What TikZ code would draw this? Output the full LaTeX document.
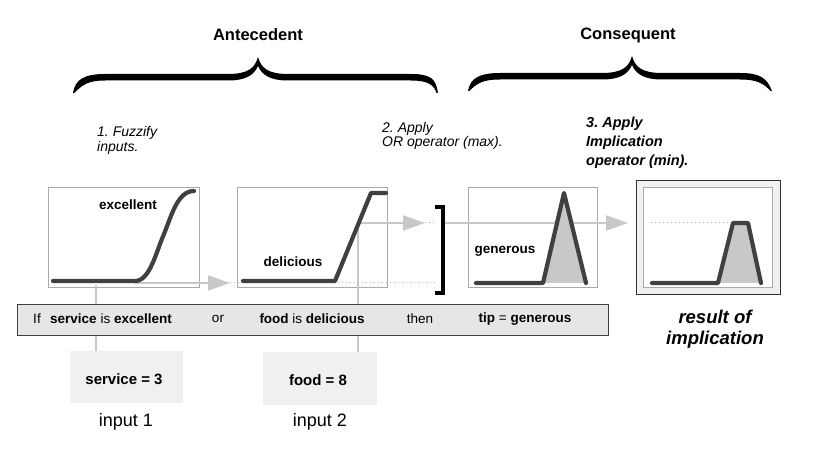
\documentclass[tikz,border=0pt]{standalone}
\usepackage{fontspec}
\setmainfont{Liberation Sans}
\usetikzlibrary{arrows.meta}
\frenchspacing
\definecolor{curvec}{HTML}{404040}
\definecolor{connc}{HTML}{C8C8C8}
\definecolor{boxb}{HTML}{AAAAAA}
\definecolor{dotc}{HTML}{B4B4B4}
\definecolor{fillg}{HTML}{C8C8C8}
\definecolor{barfill}{HTML}{E6E6E6}
\definecolor{inbox}{HTML}{F0F0F0}
\tikzset{
  mfbox/.style={draw=boxb, line width=0.8pt, fill=white, inner sep=0pt, anchor=north west},
  mfcurve/.style={draw=curvec, line width=4.2pt, line cap=round, line join=round},
  connline/.style={draw=connc, line width=2pt},
  connarrow/.style={connline, -{Triangle[length=22pt,width=15pt]}},
  dotline/.style={draw=dotc, line width=1pt, dash pattern=on 1pt off 3pt},
  bracefill/.style={fill=black},
  head/.style={font=\fontsize{16.5}{19}\selectfont\bfseries},
  stepital/.style={font=\fontsize{14}{15}\selectfont\itshape, anchor=base west, inner sep=0pt},
  stepbold/.style={font=\fontsize{14.5}{19}\selectfont\bfseries\itshape, anchor=base west, inner sep=0pt},
  mflabel/.style={font=\fontsize{13.5}{16}\selectfont\bfseries, inner sep=0pt},
  bartext/.style={font=\fontsize{13.5}{16}\selectfont, inner sep=0pt},
  inbox/.style={fill=inbox, inner sep=0pt, anchor=north west},
  intext/.style={font=\fontsize{15}{18}\selectfont\bfseries, inner sep=0pt},
  inlabel/.style={font=\fontsize{18}{20}\selectfont, inner sep=0pt},
  restext/.style={font=\fontsize{18.5}{23}\selectfont\bfseries\itshape, inner sep=0pt},
}
\begin{document}
\begin{tikzpicture}[x=1pt,y=-1pt]
\useasboundingbox (0,0) rectangle (815,449);

% ---------- braces ----------
\path[bracefill] (73,93) .. controls (75,79) and (85,74) .. (105,74) -- (228,74)
  .. controls (248,74) and (255,68) .. (258,57)
  .. controls (261,68) and (268,74) .. (288,74) -- (411,74)
  .. controls (431,74) and (436,79) .. (438,93) -- (436.5,93)
  .. controls (434,85) and (428,80.5) .. (411,80.5) -- (288,80.5)
  .. controls (270,80.5) and (262,75) .. (258,66)
  .. controls (254,75) and (246,80.5) .. (228,80.5) -- (105,80.5)
  .. controls (88,80.5) and (82,85) .. (74.5,93) -- cycle;
\path[bracefill] (468,91) .. controls (470,78) and (480,73) .. (500,73) -- (602,73)
  .. controls (622,73) and (629,67) .. (632,56)
  .. controls (635,67) and (642,73) .. (662,73) -- (740,73)
  .. controls (760,73) and (767,78) .. (772,91) -- (770.5,91)
  .. controls (764,84) and (758,79.5) .. (740,79.5) -- (662,79.5)
  .. controls (644,79.5) and (636,74) .. (632,65)
  .. controls (628,74) and (620,79.5) .. (602,79.5) -- (500,79.5)
  .. controls (482,79.5) and (476,84) .. (469.5,91) -- cycle;

\node[head] (ante) at (258,35) {Antecedent};
\node[head] (cons) at (628,35) {Consequent};

\node[stepital] (s1a) at (97,137) {1. Fuzzify};
\node[stepital] (s1b) at (97,152) {inputs.};
\node[stepital] (s2a) at (382,133) {2. Apply};
\node[stepital] (s2b) at (382,147) {OR operator (max).};
\node[stepbold] (s3a) at (586,128) {3. Apply};
\node[stepbold] (s3b) at (586,147) {Implication};
\node[stepbold] (s3c) at (586,166) {operator (min).};

% ---------- membership function boxes ----------
\node[mfbox, minimum width=151pt, minimum height=100pt] (b1) at (48,187) {};
\node[mfbox, minimum width=150pt, minimum height=100pt] (b2) at (237,187) {};
\node[mfbox, minimum width=129pt, minimum height=100pt] (b3) at (468,187) {};
\node[draw=black!80, line width=1.2pt, fill=inbox, inner sep=0pt, anchor=north west,
      minimum width=144pt, minimum height=114pt] (b4o) at (636,180) {};
\node[mfbox, minimum width=129pt, minimum height=100pt] (b4) at (643,187) {};

% ---------- connector coordinates ----------
\coordinate (e1) at (135,283);
\coordinate (e1tip) at (230,283);
\coordinate (e1dot) at (437,283);
\coordinate (v1top) at (96,285);
\coordinate (v2top) at (358,223);
\coordinate (f1tip) at (425,223);
\coordinate (f1dot) at (437,223);
\coordinate (g1) at (445,223);
\coordinate (g1tip) at (628,223);
\coordinate (r1) at (651,223);
\coordinate (r2) at (733,223);

% ---------- rule bar and input boxes ----------
\node[inbox, minimum width=113pt, minimum height=52pt] (in1) at (70,351) {};
\node[inbox, minimum width=114pt, minimum height=53pt] (in2) at (263,352) {};

\draw[connline] (v1top) -- (v1top |- in1.north);
\draw[connline] (in2.north -| v2top) -- (v2top);
\draw[connarrow] (v2top) -- (f1tip);
\draw[dotline] (f1tip) -- (f1dot);
\draw[connarrow] (e1) -- (e1tip);
\draw[dotline] (e1tip) -- (e1dot);
\draw[connarrow] (g1) -- (g1tip);
\draw[dotline] (r1) -- (r2);

\node[draw=curvec, line width=1pt, fill=barfill, inner sep=0pt, anchor=north west,
      minimum width=591pt, minimum height=31pt] (bar) at (17,304) {};

\node[bartext] (tif) at (37,319) {If};
\node[bartext] (tserv) at (111,319) {\textbf{service} is \textbf{excellent}};
\node[bartext] (tor) at (218,319) {or};
\node[bartext] (tfood) at (312,319) {\textbf{food} is \textbf{delicious}};
\node[bartext] (tthen) at (420,319) {then};
\node[bartext] (ttip) at (525,319) {\textbf{tip} = \textbf{generous}};

\node[intext] (ts) at (124,379) {service = 3};
\node[intext] (tf) at (318,380) {food = 8};
\node[inlabel] (l1) at (126,422) {input 1};
\node[inlabel] (l2) at (320,422) {input 2};

% ---------- curves ----------
\draw[mfcurve] (53,281) -- (135,281) .. controls (150,281) and (156,252) .. (164,234)
  .. controls (172,214) and (178,191) .. (194,191);
\draw[mfcurve] (243,281) -- (335,281) -- (371,193) -- (386,193);
\fill[fillg] (543,283) -- (564,193) -- (586,283) -- cycle;
\draw[mfcurve] (476,283) -- (543,283) -- (564,193) -- (586,283);
\fill[fillg] (718,283) -- (733,223) -- (748,223) -- (761,283) -- cycle;
\draw[mfcurve] (652,283) -- (718,283) -- (733,223) -- (748,223) -- (761,283);

\node[mflabel] (lx) at (128,205) {excellent};
\node[mflabel] (ld) at (293,262) {delicious};
\node[mflabel] (lg) at (505,251) {generous};

% ---------- bracket ----------
\draw[line width=4pt, line cap=butt, line join=miter] (435,207) -- (443,207) -- (443,293) -- (435,293);

\node[restext] (res1) at (715,317) {result of};
\node[restext] (res2) at (715,340) {implication};
\end{tikzpicture}
\end{document}
